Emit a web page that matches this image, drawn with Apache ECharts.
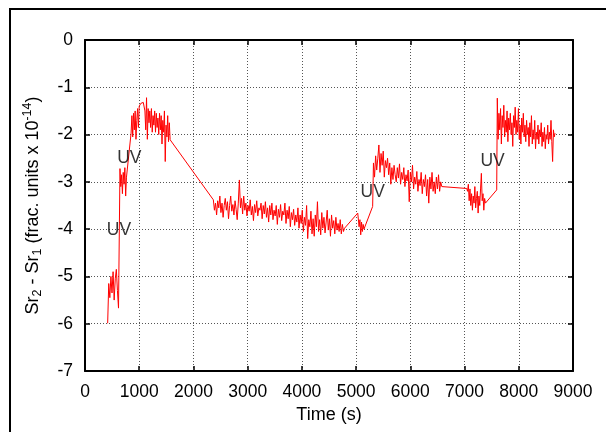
<!DOCTYPE html>
<html>
<head>
<meta charset="utf-8">
<script src="https://cdn.jsdelivr.net/npm/echarts@6/dist/echarts.min.js"></script>
<style>
html,body{margin:0;padding:0;background:#fff;}
#c{width:606px;height:432px;}
</style>
</head>
<body>
<div id="c"></div>
<script>
// ---- data (time in s, value in units of 1e-14) ----
// Each noisy run: start time, sampling step, values
const runA = { t0: 418, dt: 20, v: [-5.99,-5.15,-5.45,-5.0,-5.35,-4.9,-5.5,-5.05,-4.85,-5.3,-5.67] };
const runB = { t0: 645, dt: 15, v: [-2.72,-3.1,-2.85,-3.25,-2.8,-3.05,-2.7,-3.3,-2.9] };
const runC = { t0: 850, dt: 15, v: [-1.97,-1.6,-2.05,-1.55,-1.9,-1.5,-2.1,-1.7,-1.45,-1.85,-1.4,-1.36,-1.34,-1.33,-1.31,-1.32,-1.3,-1.5,-1.9,-1.22,-2.1,-1.45,-1.75,-1.5,-1.85,-1.45,-1.95,-1.6,-1.8,-1.5,-1.95,-1.55,-1.85,-1.65,-2.0,-1.55,-1.9,-1.6,-2.2,-1.7,-1.95,-1.5,-2.57,-1.8,-2.05,-1.6,-2.15,-1.75,-2.11] };
const runD = { t0: 2367, dt: 20, v: [-3.38,-3.6,-3.45,-3.7,-3.4,-3.55,-3.3,-3.65,-3.45,-3.75,-3.5,-3.35,-3.6,-3.42,-3.78,-3.5,-3.3,-3.62,-3.48,-3.7,-3.4,-3.58,-3.8,-3.45,-2.96,-3.55,-3.35,-3.68,-3.3,-3.6,-3.45,-3.72,-3.5,-3.62,-3.38,-3.7,-3.52,-3.82,-3.48,-3.65,-3.4,-3.72,-3.55,-3.6,-3.45,-3.78,-3.5,-3.68,-3.42,-3.75,-3.55,-3.85,-3.5,-3.7,-3.45,-3.8,-3.6,-3.72,-3.5,-3.9,-3.58,-3.75,-3.48,-3.82,-3.62,-3.7,-3.45,-3.88,-3.6,-3.78,-3.52,-3.95,-3.65,-3.8,-3.58,-3.92,-3.7,-3.85,-3.55,-3.98,-3.7,-3.88,-3.6,-4.05,-3.75,-3.92,-3.5,-4.2,-3.8,-3.95,-3.62,-4.1,-3.78,-4.15,-3.7,-3.95,-3.42,-4.05,-3.8,-4.12,-3.65,-3.98,-3.75,-4.08,-3.85,-3.6,-4.02,-3.78,-4.15,-3.7,-3.98,-3.82,-4.1,-3.75,-4.02,-3.88,-4.05,-3.8,-4.1,-3.9,-4.05,-3.98] };
const runE = { t0: 5040, dt: 15, v: [-3.66,-3.95,-3.8,-4.12,-3.85,-4.05,-3.9,-4.0] };
const runF = { t0: 5320, dt: 20, v: [-2.6,-2.9,-2.45,-2.75,-2.5,-2.22,-2.8,-2.4,-2.65,-2.35,-2.9,-2.55,-2.7,-2.5,-2.85,-2.6,-3.05,-2.7,-2.95,-2.65,-2.85,-3.0,-2.7,-2.92,-2.62,-3.05,-2.8,-2.95,-2.7,-3.1,-2.85,-2.98,-2.75,-3.42,-2.8,-3.0,-2.65,-3.15,-2.9,-3.05,-2.78,-3.2,-2.95,-3.08,-2.8,-3.25,-2.95,-3.1,-2.85,-3.3,-2.95,-3.45,-2.9,-3.15,-2.8,-3.2,-3.0,-3.25,-2.9,-3.15,-2.85,-3.2,-3.0,-3.1] };
const runG = { t0: 7040, dt: 15, v: [-3.14,-3.2,-3.05,-3.4,-3.15,-3.5,-3.25,-3.6,-3.3,-3.45,-3.1,-3.55,-3.35,-3.2,-3.66,-3.3,-3.5,-3.15,-2.82,-3.4,-3.25,-3.6,-3.35,-3.45] };
const runH = { t0: 7604, dt: 15, v: [-1.23,-2.1,-1.55,-1.9,-1.45,-2.2,-1.6,-1.85,-1.38,-2.05,-1.7,-1.95,-1.5,-2.15,-1.65,-1.9,-1.55,-2.0,-1.75,-2.25,-1.6,-1.85,-1.42,-2.0,-1.7,-1.95,-1.45,-2.1,-1.8,-2.2,-1.65,-1.95,-1.55,-2.05,-1.8,-2.15,-1.7,-2.0,-1.85,-2.25,-1.75,-2.05,-1.6,-2.2,-1.9,-2.1,-1.7,-2.3,-1.95,-2.1,-1.8,-2.2,-1.9,-2.05,-1.75,-2.25,-1.95,-2.15,-1.85,-2.3,-2.0,-2.1,-1.8,-2.2,-1.95,-2.1,-1.7,-2.15,-2.57,-1.9,-2.05,-1.97] };
// single samples recorded between runs
const gapPoints = [[5030, -3.66], [5305, -3.52], [7593, -3.17]];
// annotation labels
const uvLabels = [[627, -4.02], [818, -2.50], [5306, -3.21], [7516, -2.57]];
const xTicks = { min: 0, max: 9000, step: 1000 };
const yTicks = { min: -7, max: 0, step: 1 };

function runPts(r){ return r.v.map((y,i)=>[r.t0 + i*r.dt, y]); }
const seq = [runA, runB, runC, runD, 'g0', runE, 'g1', runF, runG, 'g2', runH];
let data = [];
seq.forEach(s=>{
  if (typeof s === 'string') data.push(gapPoints[+s.slice(1)]);
  else data = data.concat(runPts(s));
});
data.sort((a,b)=>a[0]-b[0]);

const FONT = '"Liberation Sans", Arial, Helvetica, sans-serif';
const chart = echarts.init(document.getElementById('c'), null, {renderer:'canvas'});
const gridLine = { show: true, lineStyle: { color: '#555', type: [1,2], width: 1 } };
const baseAxisLine = { show: true, onZero: false, lineStyle: { color: '#000', width: 2 } };
const tick = { show: true, inside: true, length: 5, lineStyle: { color: '#000', width: 1.5 } };

chart.setOption({
  animation: false,
  backgroundColor: '#fff',
  grid: { left: 85, right: 33, top: 40, bottom: 61, show: false },
  graphic: [{
    type: 'rect', shape: { x: 10, y: 9, width: 640, height: 460 },
    style: { fill: 'none', stroke: '#000', lineWidth: 2 }, silent: true, z: 100
  }],
  xAxis: [{
    type: 'value', min: xTicks.min, max: xTicks.max, interval: xTicks.step,
    axisLine: baseAxisLine, axisTick: tick, splitLine: gridLine,
    axisLabel: { color: '#000', fontSize: 17.5, fontFamily: FONT, margin: 12, formatter: v => String(v) },
    name: 'Time (s)', nameLocation: 'middle', nameGap: 33,
    nameTextStyle: { color: '#000', fontSize: 18, fontFamily: FONT }
  }, {
    type: 'value', position: 'top', min: xTicks.min, max: xTicks.max, interval: xTicks.step,
    axisLine: baseAxisLine, axisTick: tick, splitLine: { show: false }, axisLabel: { show: false }
  }],
  yAxis: [{
    type: 'value', min: yTicks.min, max: yTicks.max, interval: yTicks.step,
    axisLine: baseAxisLine, axisTick: tick, splitLine: gridLine,
    axisLabel: { color: '#000', fontSize: 17.5, fontFamily: FONT, margin: 12 },
    name: '{a|Sr}{b|2}{a| - Sr}{b|1}{a| (frac. units x 10}{c|-14}{a|)}',
    nameLocation: 'middle', nameGap: 40, nameRotate: 90,
    nameTextStyle: {
      color: '#000', fontFamily: FONT,
      rich: {
        a: { fontSize: 18, fontFamily: FONT, color: '#000', lineHeight: 24, verticalAlign: 'middle' },
        b: { fontSize: 12.5, fontFamily: FONT, color: '#000', lineHeight: 24, verticalAlign: 'bottom', padding: [0,0,1,0] },
        c: { fontSize: 12.5, fontFamily: FONT, color: '#000', lineHeight: 24, verticalAlign: 'top' }
      }
    }
  }, {
    type: 'value', position: 'right', min: yTicks.min, max: yTicks.max, interval: yTicks.step,
    axisLine: baseAxisLine, axisTick: tick, splitLine: { show: false }, axisLabel: { show: false }
  }],
  series: [{
    type: 'line', data: data, showSymbol: false, symbol: 'none',
    lineStyle: { color: '#ff0000', width: 1 }, sampling: null, z: 3, silent: true
  }, {
    type: 'scatter', data: uvLabels, symbolSize: 0, silent: true, z: 4,
    label: { show: true, position: 'inside', formatter: 'UV', color: '#000', fontSize: 17.5, fontFamily: FONT }
  }]
});
</script>
</body>
</html>
